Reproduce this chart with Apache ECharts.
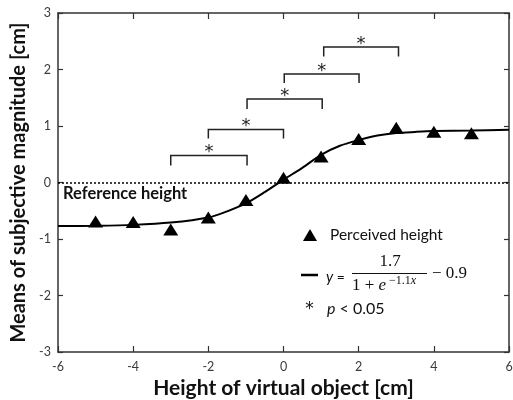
<!DOCTYPE html>
<html>
<head>
<meta charset="utf-8">
<script src="https://cdn.jsdelivr.net/npm/echarts@6/dist/echarts.min.js"></script>
<style>html,body{margin:0;padding:0;background:#fff}#c{width:513px;height:400px}</style>
</head>
<body>
<div id="c"></div>
<script>
// Measured points (triangles)
const heights = [-5, -4, -3, -2, -1, 0, 1, 2, 3, 4, 5];
const perceived = [-0.69, -0.70, -0.83, -0.62, -0.31, 0.085, 0.46, 0.77, 0.97, 0.90, 0.87];
// Fitted curve
const curveX = [-6, -5, -4, -3, -2, -1.5, -1, -0.5, 0, 0.5, 1, 1.5, 2, 2.5, 3, 3.5, 4, 5, 6];
const curveY = [-0.77, -0.765, -0.75, -0.71, -0.62, -0.51, -0.37, -0.17, 0.05, 0.26, 0.49, 0.65, 0.75, 0.83, 0.875, 0.895, 0.91, 0.92, 0.935];
// Significance brackets
const bracketStart = [-3, -2, -0.97, 0.02, 1.07];
const bracketEnd = [-0.97, 0, 1.03, 2.01, 3.06];
const bracketTop = [0.48, 0.94, 1.48, 1.92, 2.40];
const bracketFoot = [0.30, 0.78, 1.30, 1.76, 2.23];
const xTicks = [-6, -4, -2, 0, 2, 4, 6];
const yTicks = [-3, -2, -1, 0, 1, 2, 3];

const chart = echarts.init(document.getElementById('c'));
const FONT = 'Lato';
const axisCol = '#333';
const tickLbl = {color: '#3a3a3a', fontFamily: FONT, fontSize: 12.5};

const bracketData = bracketStart.map((s, i) => [s, bracketEnd[i], bracketTop[i], bracketFoot[i]]);

const option = {
  animation: false,
  grid: {left: 58, right: 4, top: 13, bottom: 48, outerBoundsMode: 'none'},
  xAxis: [{
    type: 'value', min: xTicks[0], max: xTicks[xTicks.length - 1], interval: 2, position: 'bottom',
    axisLine: {onZero: false, lineStyle: {color: axisCol, width: 1.5}},
    axisTick: {inside: true, length: 6, lineStyle: {color: axisCol, width: 1.2}},
    axisLabel: Object.assign({margin: 8}, tickLbl),
    splitLine: {show: false},
    name: 'Height of virtual object [cm]', nameLocation: 'middle', nameGap: 26,
    nameTextStyle: {fontFamily: FONT, fontWeight: 'bold', fontSize: 21, color: '#111'}
  }, {
    type: 'value', min: -6, max: 6, interval: 2, position: 'top',
    axisLine: {onZero: false, lineStyle: {color: axisCol, width: 1.5}},
    axisTick: {inside: true, length: 6, lineStyle: {color: axisCol, width: 1.2}},
    axisLabel: {show: false}, splitLine: {show: false}
  }],
  yAxis: [{
    type: 'value', min: yTicks[0], max: yTicks[yTicks.length - 1], interval: 1, position: 'left',
    axisLine: {onZero: false, lineStyle: {color: axisCol, width: 1.5}},
    axisTick: {inside: true, length: 5, lineStyle: {color: axisCol, width: 1.2}},
    axisLabel: Object.assign({margin: 7}, tickLbl),
    splitLine: {show: false},
    name: 'Means of subjective magnitude [cm]', nameLocation: 'middle', nameGap: 22,
    nameTextStyle: {fontFamily: FONT, fontWeight: 'bold', fontSize: 20, color: '#111'}
  }, {
    type: 'value', min: -3, max: 3, interval: 1, position: 'right',
    axisLine: {onZero: false, lineStyle: {color: axisCol, width: 1.5}},
    axisTick: {inside: true, length: 5, lineStyle: {color: axisCol, width: 1.2}},
    axisLabel: {show: false}, splitLine: {show: false}
  }],
  legend: {
    data: ['Perceived height'], orient: 'vertical', left: 303, top: 227, padding: 0,
    itemWidth: 14, itemHeight: 12,
    itemStyle: {opacity: 1, color: '#000'},
    textStyle: {fontFamily: FONT, fontSize: 15.5, color: '#111', padding: [0, 0, 0, 8]}
  },
  series: [{
    name: 'Fit', type: 'line', smooth: 0.3, showSymbol: false, symbol: 'none',
    data: curveX.map((x, i) => [x, curveY[i]]),
    lineStyle: {color: '#000', width: 2}, z: 2,
    markLine: {
      silent: true, symbol: 'none', label: {show: false},
      lineStyle: {color: '#000', width: 1.5, type: [2, 2]},
      data: [{yAxis: 0}]
    }
  }, {
    name: 'Perceived height', type: 'scatter', symbol: 'triangle', symbolSize: [15, 12],
    data: heights.map((x, i) => [x, perceived[i]]),
    itemStyle: {color: '#000', opacity: 1}, z: 3
  }, {
    name: 'Brackets', type: 'custom',
    data: bracketData,
    encode: {x: [0, 1], y: [2, 3]},
    renderItem: function (params, api) {
      const a = api.coord([api.value(0), api.value(2)]);
      const b = api.coord([api.value(1), api.value(2)]);
      const f = api.coord([api.value(0), api.value(3)]);
      return {
        type: 'group',
        children: [{
          type: 'polyline',
          shape: {points: [[a[0], f[1]], [a[0], a[1]], [b[0], b[1]], [b[0], f[1]]]},
          style: {stroke: '#222', lineWidth: 1.5, fill: null}
        }, {
          type: 'text',
          style: {
            text: '*', x: (a[0] + b[0]) / 2, y: a[1] - 3,
            align: 'center', verticalAlign: 'middle',
            font: '18px DejaVu Sans', fill: '#222'
          }
        }]
      };
    }
  }],
  graphic: [
    {type: 'text', left: 63, top: 185, style: {text: 'Reference height', font: 'bold 16.5px Lato', fill: '#111'}},
    {type: 'line', shape: {x1: 301, y1: 275, x2: 318, y2: 275}, style: {stroke: '#000', lineWidth: 2.5}},
    {type: 'text', x: 326, y: 277, style: {text: '{i|y} =', verticalAlign: 'middle', rich: {i: {font: 'italic 15px Lato'}}, font: '14px Lato', fill: '#111'}},
    {type: 'text', x: 390, y: 262, style: {text: '1.7', align: 'center', verticalAlign: 'middle', font: '17px "Liberation Serif"', fill: '#111'}},
    {type: 'line', shape: {x1: 352, y1: 273.5, x2: 427, y2: 273.5}, style: {stroke: '#111', lineWidth: 1}},
    {type: 'text', x: 352, y: 286, style: {text: '1 + {i|e}', verticalAlign: 'middle', font: '17px "Liberation Serif"', fill: '#111', rich: {i: {font: 'italic 17px "Liberation Serif"'}}}},
    {type: 'text', x: 389, y: 280.5, style: {text: '\u22121.1{i|x}', verticalAlign: 'middle', font: '12px "Liberation Serif"', fill: '#111', rich: {i: {font: 'italic 12px "Liberation Serif"'}}}},
    {type: 'text', x: 432, y: 273.5, style: {text: '\u2212 0.9', verticalAlign: 'middle', font: '17px "Liberation Serif"', fill: '#111'}},
    {type: 'text', x: 309.5, y: 310, style: {text: '*', align: 'center', verticalAlign: 'middle', font: '17px DejaVu Sans', fill: '#111'}},
    {type: 'text', x: 327, y: 308.5, style: {text: '{i|p} < 0.05', verticalAlign: 'middle', font: '16px Lato', fill: '#111', rich: {i: {font: 'italic 16px Lato'}}}}
  ]
};
chart.setOption(option);
</script>
</body>
</html>
